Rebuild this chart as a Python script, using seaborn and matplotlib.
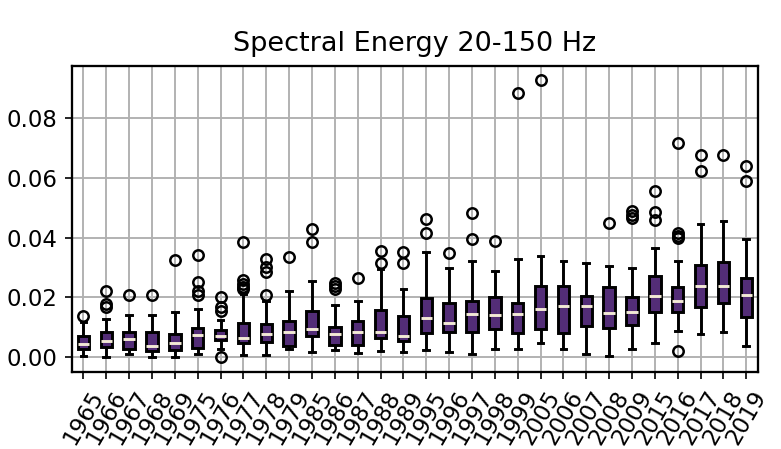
import numpy as np
import pandas as pd
import matplotlib
matplotlib.use("Agg")
import matplotlib.pyplot as plt
import seaborn as sns

years = [1965, 1966, 1967, 1968, 1969, 1975, 1976, 1977, 1978, 1979,
         1985, 1986, 1987, 1988, 1989, 1995, 1996, 1997, 1998, 1999,
         2005, 2006, 2007, 2008, 2009, 2015, 2016, 2017, 2018, 2019]

lo = [0.0002, 0.0000, 0.0009, 0.0000, 0.0000, 0.0009, 0.0025, 0.0006, 0.0007, 0.0027,
      0.0017, 0.0022, 0.0012, 0.0020, 0.0016, 0.0022, 0.0016, 0.0009, 0.0027, 0.0026,
      0.0047, 0.0025, 0.0011, 0.0003, 0.0026, 0.0045, 0.0087, 0.0075, 0.0084, 0.0037]
q1 = [0.0026, 0.0032, 0.0028, 0.0019, 0.0024, 0.0031, 0.0055, 0.0047, 0.0050, 0.0036,
      0.0069, 0.0039, 0.0041, 0.0064, 0.0053, 0.0081, 0.0084, 0.0084, 0.0092, 0.0081,
      0.0092, 0.0081, 0.0104, 0.0097, 0.0106, 0.0149, 0.0150, 0.0166, 0.0180, 0.0135]
med = [0.0044, 0.0053, 0.0060, 0.0037, 0.0047, 0.0074, 0.0069, 0.0064, 0.0076, 0.0083,
       0.0095, 0.0075, 0.0082, 0.0084, 0.0070, 0.0131, 0.0115, 0.0142, 0.0140, 0.0144,
       0.0160, 0.0171, 0.0171, 0.0148, 0.0151, 0.0204, 0.0187, 0.0237, 0.0236, 0.0209]
q3 = [0.0069, 0.0083, 0.0082, 0.0083, 0.0077, 0.0098, 0.0090, 0.0115, 0.0110, 0.0121,
      0.0153, 0.0101, 0.0120, 0.0158, 0.0136, 0.0197, 0.0182, 0.0187, 0.0199, 0.0182,
      0.0238, 0.0239, 0.0205, 0.0235, 0.0200, 0.0272, 0.0233, 0.0309, 0.0318, 0.0263]
hi = [0.0118, 0.0126, 0.0140, 0.0140, 0.0151, 0.0162, 0.0123, 0.0212, 0.0188, 0.0221,
      0.0254, 0.0173, 0.0188, 0.0293, 0.0227, 0.0352, 0.0298, 0.0321, 0.0287, 0.0328,
      0.0338, 0.0321, 0.0315, 0.0306, 0.0298, 0.0366, 0.0321, 0.0447, 0.0455, 0.0396]
fliers = [
    [0.0138],
    [0.0222, 0.0178, 0.0166],
    [0.0207],
    [0.0207],
    [0.0324],
    [0.0341, 0.0252, 0.0220, 0.0209],
    [0.0202, 0.0168, 0.0154, 0.0000],
    [0.0384, 0.0257, 0.0245, 0.0233, 0.0226],
    [0.0327, 0.0300, 0.0285, 0.0206],
    [0.0336],
    [0.0427, 0.0386],
    [0.0249, 0.0238, 0.0227],
    [0.0263],
    [0.0356, 0.0313],
    [0.0352, 0.0314],
    [0.0462, 0.0415],
    [0.0347],
    [0.0481, 0.0394],
    [0.0390],
    [0.0884],
    [0.0928],
    [],
    [],
    [0.0450],
    [0.0489, 0.0475, 0.0464],
    [0.0557, 0.0484, 0.0459],
    [0.0716, 0.0416, 0.0406, 0.0397, 0.0018],
    [0.0678, 0.0623],
    [0.0678],
    [0.0641, 0.0589],
]


def sample_from_stats(lo_, q1_, med_, q3_, hi_, fl):
    # build a sample whose quartiles / whisker ends / outliers are exactly the read values
    low = sorted([f for f in fl if f < q1_])
    high = sorted([f for f in fl if f > q3_])
    j = max(len(low), len(high)) + 2
    n = 4 * j + 1
    v = [0.0] * n
    kb = len(low)
    for i in range(kb):
        v[i] = low[i]
    v[kb] = lo_
    for i in range(kb + 1, j + 1):
        v[i] = q1_
    for i in range(j + 1, 2 * j + 1):
        v[i] = med_
    for i in range(2 * j + 1, 3 * j + 1):
        v[i] = q3_
    for i in range(3 * j + 1, n - len(high)):
        v[i] = hi_
    for k, f in enumerate(high):
        v[n - len(high) + k] = f
    return v


rows = []
for i, y in enumerate(years):
    for val in sample_from_stats(lo[i], q1[i], med[i], q3[i], hi[i], fliers[i]):
        rows.append((str(y), val))
df = pd.DataFrame(rows, columns=["year", "value"])
order = [str(y) for y in years]

fig = plt.figure(figsize=(782 / 150, 449 / 150), dpi=150)
ax = fig.add_subplot(111)
fig.subplots_adjust(left=0.092, right=0.969, top=0.853, bottom=0.172)

lw = 1.4
sns.boxplot(data=df, x="year", y="value", order=order, ax=ax,
            color="#532d77", saturation=1, width=0.5, linecolor="black",
            linewidth=lw, fliersize=5,
            boxprops=dict(linewidth=lw, edgecolor="black"),
            whiskerprops=dict(linewidth=lw, color="black"),
            capprops=dict(linewidth=lw, color="black"),
            flierprops=dict(marker="o", markerfacecolor="none",
                            markeredgecolor="black", markeredgewidth=1.2),
            medianprops=dict(color="#f3ead6", linewidth=1.4))

ax.set_axisbelow(True)
ax.grid(True, color="#b0b0b0", linewidth=0.9)
ax.set_ylim(-0.005, 0.0975)
ax.set_xlim(-0.5, len(years) - 0.5)
ax.set_xlabel("")
ax.set_ylabel("")
ax.set_title("Spectral Energy 20-150 Hz", fontsize=13, pad=7)
ax.tick_params(axis="x", labelrotation=60, labelsize=11)
ax.tick_params(axis="y", labelsize=11)
for sp in ax.spines.values():
    sp.set_linewidth(1.1)

fig.savefig("out.png", dpi=150)
